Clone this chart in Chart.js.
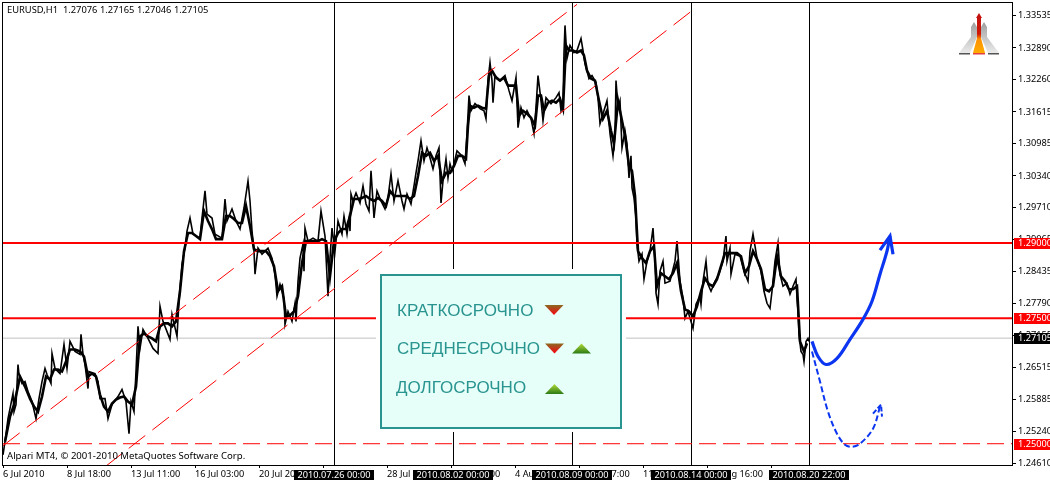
<!DOCTYPE html>
<html>
<head>
<meta charset="utf-8">
<style>
  html, body { margin: 0; padding: 0; background: #fff; }
  canvas { display: block; }
</style>
</head>
<body>
<canvas id="eurusd" width="1050" height="482"></canvas>

<script src="https://cdn.jsdelivr.net/npm/chart.js"></script>
<script>
  // H1 bar number and price (swing highs and lows)
  const bars = [3,5,8,10,13,14,16,18,19,22,25,28,32,36,39,42,45,47,51,52,55,60,64,67,70,75,80,81,83,85,88,89,95,98,100,105,108,112,118,122,126,129,131,134,136,138,140,143,148,153,158,160,163,170,172,177,179,182,185,
    187,190,193,200,202,205,207,212,215,222,225,227,232,236,240,244,248,250,252,254,255,258,262,268,272,275,277,280,284,285,288,292,295,296,298,300,303,304,305,308,313,318,321,325,328,330,332,335,338,342,344,347,349,
    350,351,353,356,360,363,366,369,371,374,377,381,385,388,391,394,398,402,404,407,411,414,416,418,421,424,427,430,433,436,439,441,443,446,448,450,452,454,457,462,465,467,469,471,475,480,484,486,488,490,492,493,495,500,505,509,512,516,518,521,524,527,531,534,536,538,541,543,546,551,556,559,561,563,564,565,567,570,574,577,581,583,585,589,592,596,598,600,603,607,610,613,615,616,618,620,622,625,627,629,631,632,634,636,
    637,639,642,644,647,650,653,655,656,658,660,663,665,670,675,677,680,683,685,688,693,696,700,701,703,706,708,711,715,719,723,725,726,727,730,731,735,740,744,748,750,753,757,761,764,767,770,772,775,778,780,783,787,790,793,796,797,798,799,801,803,804,806,808,809];
  const prices = [1.2478,1.2504,1.2550,1.2570,1.2600,1.2564,1.2578,1.2658,1.2638,1.2620,1.2624,1.2604,1.2584,1.2550,1.2590,1.2624,1.2650,1.2638,1.2620,1.2680,1.2650,1.2640,1.2698,1.2650,1.2704,1.2684,1.2678,1.2718,1.2678,1.2658,1.2610,1.2644,1.2640,1.2624,1.2590,1.2590,1.2550,1.2578,1.2594,1.2608,1.2584,1.2520,1.2584,1.2564,1.2644,1.2734,1.2690,1.2728,1.2710,1.2690,1.2680,1.2774,1.2744,1.2708,1.2758,1.2714,1.2784,1.2858,1.2890,
    1.2924,1.2950,1.2918,1.2910,1.2950,1.3004,1.2958,1.2950,1.2918,1.2910,1.2988,1.2944,1.2968,1.2944,1.2928,1.2970,1.3024,1.2984,1.2924,1.2884,1.2838,1.2890,1.2878,1.2890,1.2870,1.2838,1.2794,1.2818,1.2790,1.2738,1.2764,1.2744,1.2780,1.2744,1.2824,1.2870,1.2898,1.2844,1.2930,1.2904,1.2910,1.2904,1.2964,1.2914,1.2794,1.2870,1.2930,1.2884,1.2944,1.2918,1.2954,1.2918,1.2948,
    1.2924,1.2998,1.2984,1.3000,1.2980,1.3014,1.2978,1.2964,1.3044,1.2950,1.3004,1.2984,1.2968,1.2990,1.3038,1.2984,1.3024,1.2984,1.2968,1.2998,1.2978,1.3014,1.3040,1.3064,1.3104,1.3064,1.3090,1.3070,1.3048,1.3074,1.3090,1.2980,1.3024,1.3068,1.3030,1.3058,1.3044,1.3058,1.3084,1.3074,1.3058,1.3118,1.3194,1.3164,1.3178,1.3168,1.3164,1.3148,1.3224,1.3260,1.3224,1.3180,1.3234,1.3224,1.3234,1.3204,1.3184,1.3230,1.3130,1.3170,1.3150,1.3164,1.3148,1.3118,1.3170,1.3234,1.3184,1.3144,1.3190,1.3178,1.3190,1.3200,1.3164,1.3178,1.3280,1.3334,1.3268,1.3294,1.3280,1.3284,1.3308,1.3284,1.3258,1.3228,1.3234,1.3220,1.3190,1.3138,1.3158,1.3184,1.3118,1.3074,1.3114,1.3224,1.3170,1.3184,1.3090,1.3124,1.3098,1.3030,1.3074,1.3010,1.2990,1.2950,
    1.2898,1.2864,1.2878,1.2828,1.2864,1.2884,1.2930,1.2864,1.2800,1.2778,1.2844,1.2864,1.2820,1.2824,1.2864,1.2904,1.2824,1.2790,1.2750,1.2764,1.2730,1.2778,1.2794,1.2778,1.2824,1.2864,1.2818,1.2804,1.2824,1.2838,1.2864,1.2898,1.2914,1.2864,1.2890,1.2838,1.2878,1.2874,1.2844,1.2824,1.2884,1.2918,1.2870,1.2844,1.2804,1.2780,1.2770,1.2804,1.2864,1.2900,1.2838,1.2814,1.2820,1.2798,1.2814,1.2828,1.2790,1.2764,1.2718,1.2684,1.2678,1.2664,1.2704,1.2710,1.2704];

  // the middle of the same price band
  const bodyBars = [5,10,14,18,20,25,30,34,38,42,46,50,54,58,62,66,70,75,80,84,88,92,96,100,104,108,112,116,120,124,128,132,136,140,144,148,152,156,160,164,168,172,176,180,184,
    188,192,196,200,204,208,212,216,222,226,230,234,238,242,246,250,254,258,262,266,270,274,278,282,286,290,294,298,302,306,310,314,318,322,326,330,334,338,342,346,
    350,354,358,362,366,370,374,378,382,386,390,394,398,402,406,410,414,418,422,426,430,434,438,442,446,450,454,458,462,466,468,470,474,478,482,486,489,492,496,500,504,508,512,516,519,523,527,531,535,538,541,544,548,552,556,560,563,566,569,573,577,581,584,587,591,595,599,603,607,611,614,618,621,625,629,632,635,
    638,642,646,650,654,657,661,665,669,673,677,681,685,689,693,697,701,705,709,713,717,721,725,729,733,737,741,745,749,753,757,761,765,769,773,777,781,785,789,793,797,800,804,807];
  const bodyPrices = [1.2504,1.2554,1.2578,1.2614,1.2634,1.2614,1.2590,1.2574,1.2564,1.2594,1.2634,1.2628,1.2648,1.2648,1.2644,1.2664,1.2688,1.2688,1.2684,1.2674,1.2634,1.2640,1.2634,1.2598,1.2574,1.2564,1.2580,1.2588,1.2592,1.2594,1.2584,1.2578,1.2614,1.2714,1.2720,1.2714,1.2710,1.2704,1.2734,1.2740,1.2740,1.2734,1.2744,1.2804,1.2884,
    1.2920,1.2920,1.2914,1.2908,1.2964,1.2944,1.2928,1.2908,1.2908,1.2954,1.2954,1.2948,1.2940,1.2940,1.2974,1.2934,1.2888,1.2884,1.2884,1.2884,1.2874,1.2854,1.2804,1.2814,1.2754,1.2756,1.2764,1.2794,1.2860,1.2904,1.2904,1.2904,1.2904,1.2908,1.2904,1.2834,1.2904,1.2920,1.2928,1.2928,
    1.2954,1.2988,1.2988,1.2990,1.2994,1.2988,1.2984,1.2990,1.2984,1.2974,1.3004,1.2994,1.2994,1.2994,1.2994,1.2988,1.2994,1.3034,1.3080,1.3074,1.3080,1.3064,1.3074,1.3024,1.3040,1.3040,1.3054,1.3074,1.3074,1.3068,1.3134,1.3174,1.3170,1.3174,1.3170,1.3168,1.3234,1.3244,1.3230,1.3224,1.3230,1.3214,1.3214,1.3214,1.3154,1.3164,1.3158,1.3150,1.3134,1.3194,1.3194,1.3164,1.3180,1.3184,1.3180,1.3188,1.3168,1.3294,1.3284,1.3284,1.3280,1.3284,1.3274,1.3244,1.3228,1.3224,1.3184,1.3148,1.3164,1.3124,1.3098,1.3184,1.3154,1.3114,1.3054,1.3044,1.2994,
    1.2884,1.2870,1.2860,1.2884,1.2894,1.2814,1.2840,1.2834,1.2828,1.2840,1.2860,1.2804,1.2768,1.2764,1.2754,1.2774,1.2804,1.2830,1.2818,1.2814,1.2828,1.2854,1.2880,1.2880,1.2880,1.2880,1.2874,1.2840,1.2854,1.2884,1.2868,1.2848,1.2808,1.2804,1.2814,1.2874,1.2834,1.2824,1.2808,1.2808,1.2814,1.2704,1.2684,1.2700];

  // price axis and time axis
  const axisMin = 1.24576;
  const axisMax = 1.33787;
  const priceTicks = [1.33535,1.32890,1.32260,1.31615,1.30985,1.30340,1.29710,1.29065,1.28435,1.27790,1.27155,1.26515,1.25885,1.25240,1.24610];
  const timeTickBars = [3,67,131,195,259,323,387,451,515,579,643,707,771];
  const timeTickLabels = ['6 Jul 2010','8 Jul 18:00','13 Jul 11:00','16 Jul 03:00','20 Jul 20:00','23 Jul 12:00','28 Jul 05:00','30 Jul 21:00','4 Aug 13:00','6 Aug 07:00','11 Aug 00:00','16 Aug 16:00','18 Aug 08:00'];

  // period separators
  const separatorBars = [334,453,572,691,809];
  const separatorLabels = ['2010.07.26 00:00','2010.08.02 00:00','2010.08.09 00:00','2010.08.14 00:00','2010.08.20 22:00'];

  // levels
  const level1 = 1.2900;
  const level2 = 1.2750;
  const level3 = 1.2500;
  const lastPrice = 1.27105;

  // channel
  const upperBars = [3,577];
  const upperPrices = [1.2496,1.3376];
  const lowerBars = [105,695];
  const lowerPrices = [1.2454,1.3368];

  // forecast arrows
  const solidBars = [812,818,826,837,850,863,872,880,887,890];
  const solidPrices = [1.2704,1.2674,1.2658,1.2670,1.2708,1.2748,1.2784,1.2838,1.2884,1.2914];
  const solidHeadBars = [880,890,893];
  const solidHeadPrices = [1.2886,1.2914,1.2878];
  const dashedBars = [812,820,828,837,845,852,860,873,880];
  const dashedPrices = [1.2684,1.2624,1.2564,1.2520,1.2498,1.2494,1.2500,1.2530,1.2574];
  const dashedHeadBars = [873,881,882];
  const dashedHeadPrices = [1.2560,1.2578,1.2554];

  const panelRows = ['КРАТКОСРОЧНО','СРЕДНЕСРОЧНО','ДОЛГОСРОЧНО'];
  const headerText = 'EURUSD,H1  1.27076 1.27165 1.27046 1.27105';
  const footerText = 'Alpari MT4, © 2001-2010 MetaQuotes Software Corp.';

  const smallFont = '9.2px "Noto Sans"';
  const blue = '#0b35f0';
  const red = '#ff0000';
  const teal = '#2a9490';

  function zip(xs, ys) {
    return xs.map((x, i) => ({ x: x, y: ys[i] }));
  }

  function triangle(ctx, x, y, up) {
    const w = 19, h = 10;
    const g = ctx.createLinearGradient(0, y, 0, y + h);
    if (up) {
      g.addColorStop(0, '#b4dc3c');
      g.addColorStop(1, '#2a7a14');
    } else {
      g.addColorStop(0, '#8a6a20');
      g.addColorStop(1, '#ff0010');
    }
    ctx.fillStyle = g;
    ctx.beginPath();
    if (up) {
      ctx.moveTo(x, y + h); ctx.lineTo(x + w, y + h); ctx.lineTo(x + w / 2, y);
    } else {
      ctx.moveTo(x, y); ctx.lineTo(x + w, y); ctx.lineTo(x + w / 2, y + h);
    }
    ctx.fill();
  }

  function sideArrow(ctx, cx, dir) {
    const g = ctx.createLinearGradient(0, 20, 0, 55);
    g.addColorStop(0, '#9a9a9a');
    g.addColorStop(1, '#efefef');
    ctx.fillStyle = g;
    ctx.beginPath();
    ctx.moveTo(cx + dir * 5, 22);
    ctx.lineTo(cx + dir * 8, 27);
    ctx.lineTo(cx + dir * 8, 37);
    ctx.lineTo(cx + dir * 20, 53);
    ctx.lineTo(cx + dir * 9, 53);
    ctx.lineTo(cx + dir * 2, 37);
    ctx.lineTo(cx + dir * 2, 27);
    ctx.fill();
    ctx.fillStyle = '#555';
    ctx.fillRect(dir > 0 ? cx + 9 : cx - 20, 53, 11, 1.5);
  }

  function drawLogo(ctx) {
    const cx = 979;
    sideArrow(ctx, cx, -1);
    sideArrow(ctx, cx, 1);
    const g = ctx.createLinearGradient(0, 13, 0, 55);
    g.addColorStop(0, '#c01010');
    g.addColorStop(0.5, '#d01808');
    g.addColorStop(0.62, '#ff9000');
    g.addColorStop(1, '#ffb000');
    ctx.fillStyle = g;
    ctx.beginPath();
    ctx.moveTo(cx, 13);
    ctx.lineTo(cx + 3, 18);
    ctx.lineTo(cx + 2, 18);
    ctx.lineTo(cx + 2, 38);
    ctx.lineTo(cx + 6, 53);
    ctx.lineTo(cx - 6, 53);
    ctx.lineTo(cx - 2, 38);
    ctx.lineTo(cx - 2, 18);
    ctx.lineTo(cx - 3, 18);
    ctx.fill();
    ctx.fillStyle = '#e04040';
    ctx.fillRect(cx - 6, 53, 12, 1.5);
  }

  // panel, tags, frame, texts
  const overlay = {
    id: 'overlay',
    afterDatasetsDraw(chart) {
      const ctx = chart.ctx;
      const area = chart.chartArea;
      const xs = chart.scales.x;
      const ys = chart.scales.y;
      ctx.save();

      // white gap round the panel, then the panel
      ctx.fillStyle = '#fff';
      ctx.fillRect(376, 269, 250, 163);
      ctx.fillStyle = '#e6fff8';
      ctx.fillRect(381, 275, 240, 153);
      ctx.strokeStyle = teal;
      ctx.lineWidth = 2;
      ctx.strokeRect(381, 275, 240, 153);

      ctx.fillStyle = teal;
      ctx.font = '17px "Liberation Sans"';
      ctx.textAlign = 'left';
      ctx.textBaseline = 'middle';
      ctx.fillText(panelRows[0], 397, 311.5);
      ctx.fillText(panelRows[1], 397, 349.5);
      ctx.fillText(panelRows[2], 396, 388.5);
      triangle(ctx, 544.5, 305, false);
      triangle(ctx, 545, 343.5, false);
      triangle(ctx, 572, 343.5, true);
      triangle(ctx, 545, 384, true);

      drawLogo(ctx);

      // frame
      ctx.strokeStyle = '#000';
      ctx.lineWidth = 1;
      ctx.strokeRect(area.left - 0.5, area.top - 0.5, area.right - area.left + 1, area.bottom - area.top + 1);

      ctx.fillStyle = '#000';
      ctx.textAlign = 'left';
      ctx.font = '9.35px "Noto Sans"';
      ctx.fillText(headerText, 7, 10.5);
      ctx.font = '9.6px "Noto Sans"';
      ctx.fillText(footerText, 7, 456.5);

      // price tags
      ctx.font = smallFont;
      ctx.textBaseline = 'middle';
      [level1, level2, level3, lastPrice].forEach((v) => {
        const y = Math.round(ys.getPixelForValue(v));
        ctx.fillStyle = v === lastPrice ? '#000' : red;
        ctx.fillRect(1014, y - 5, 36, 11);
        ctx.fillStyle = '#fff';
        ctx.fillText(v.toFixed(5), 1018, y + 0.5);
      });

      // separator time tags
      ctx.textAlign = 'center';
      separatorBars.forEach((b, i) => {
        const x = xs.getPixelForValue(b);
        ctx.fillStyle = '#000';
        ctx.fillRect(x - 40, 470, 80, 10);
        ctx.fillStyle = '#fff';
        ctx.fillText(separatorLabels[i], x, 475);
      });
      ctx.restore();
    }
  };

  const datasets = [
    { data: zip(dashedBars, dashedPrices), borderColor: blue, borderWidth: 2, borderDash: [6, 3], tension: 0.35, order: 1 },
    { data: zip(dashedHeadBars, dashedHeadPrices), borderColor: blue, borderWidth: 2, borderDash: [5, 2], order: 1 },
    { data: zip(solidBars, solidPrices), borderColor: blue, borderWidth: 3.2, tension: 0.35, order: 1 },
    { data: zip(solidHeadBars, solidHeadPrices), borderColor: blue, borderWidth: 3.2, order: 1 },
    { data: zip([3, 1012], [level1, level1]), borderColor: red, borderWidth: 2, order: 2 },
    { data: zip([3, 1012], [level2, level2]), borderColor: red, borderWidth: 2, order: 2 },
    { data: zip([3, 1012], [level3, level3]), borderColor: red, borderWidth: 1, borderDash: [17, 7], order: 2 },
    { data: zip(upperBars, upperPrices), borderColor: red, borderWidth: 1, borderDash: [21, 9], order: 3 },
    { data: zip(lowerBars, lowerPrices), borderColor: red, borderWidth: 1, borderDash: [21, 9], order: 3 },
    { data: zip(bars, prices), borderColor: '#000', borderWidth: 1.6, order: 4 },
    { data: zip(bodyBars, bodyPrices), borderColor: '#000', borderWidth: 2.6, order: 4 }
  ];

  // vertical separators, half a bar in so they stay one pixel wide
  separatorBars.forEach((b) => {
    datasets.push({ data: zip([b + 0.5, b + 0.5], [axisMin, axisMax]), borderColor: '#000', borderWidth: 1, order: 5 });
  });
  datasets.push({ data: zip([3, 1012], [lastPrice, lastPrice]), borderColor: '#c0c0c0', borderWidth: 1, order: 6 });

  new Chart(document.getElementById('eurusd').getContext('2d'), {
    type: 'line',
    data: { datasets: datasets },
    options: {
      responsive: false,
      animation: false,
      parsing: false,
      layout: { padding: { left: 3, top: 3, right: 0, bottom: 0 } },
      elements: { point: { radius: 0 }, line: { tension: 0, borderCapStyle: 'butt' } },
      plugins: { legend: { display: false }, tooltip: { enabled: false }, title: { display: false } },
      scales: {
        x: {
          type: 'linear',
          min: 3,
          max: 1012,
          border: { display: false },
          grid: { drawOnChartArea: false, tickLength: 3, tickColor: '#000' },
          afterBuildTicks(scale) {
            scale.ticks = timeTickBars.map((b) => ({ value: b }));
          },
          afterFit(scale) {
            scale.height = 17;
            scale.paddingLeft = 0;
            scale.paddingRight = 0;
          },
          ticks: {
            autoSkip: false,
            maxRotation: 0,
            align: 'start',
            padding: 1,
            color: '#000',
            font: { family: 'Noto Sans', size: 9.2 },
            callback(value) {
              return timeTickLabels[timeTickBars.indexOf(value)];
            }
          }
        },
        y: {
          type: 'linear',
          position: 'right',
          min: axisMin,
          max: axisMax,
          border: { display: false },
          grid: { drawOnChartArea: false, tickLength: 4, tickColor: '#000' },
          afterBuildTicks(scale) {
            scale.ticks = priceTicks.map((v) => ({ value: v }));
          },
          afterFit(scale) {
            scale.width = 38;
            scale.paddingTop = 0;
            scale.paddingBottom = 0;
          },
          ticks: {
            autoSkip: false,
            padding: 2,
            color: '#000',
            font: { family: 'Noto Sans', size: 9.2 },
            callback(value) { return value.toFixed(5); }
          }
        }
      }
    },
    plugins: [overlay]
  });
</script>
</body>
</html>
